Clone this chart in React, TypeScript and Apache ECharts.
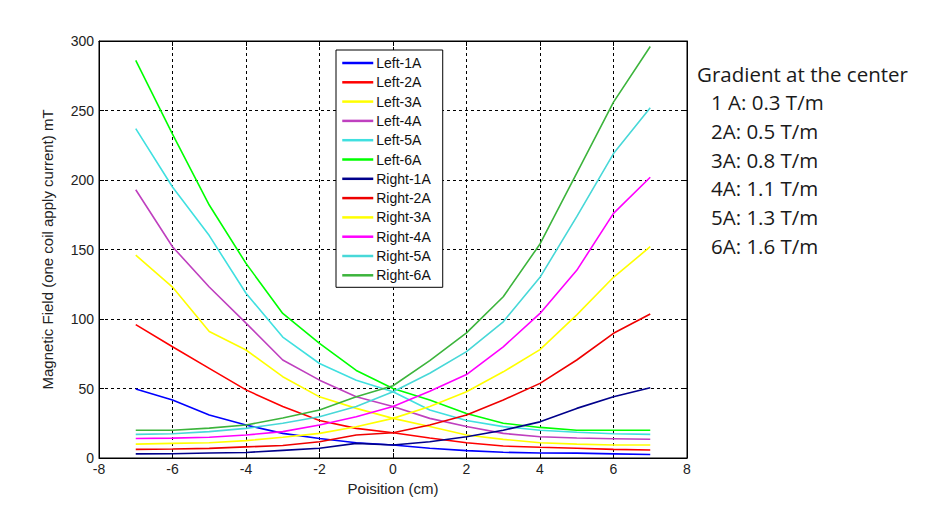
import React, { useEffect, useRef } from "react";
import * as echarts from "echarts";

const positions = [-7, -6, -5, -4, -3, -2, -1, 0, 1, 2, 3, 4, 5, 6, 7];

const left1A = [49.6, 41.7, 31, 23.7, 17.7, 14, 11, 9.4, 7, 5.3, 4.1, 3.6, 3.5, 3, 2.5];
const left2A = [96, 80, 64.5, 49, 37, 27, 21.3, 18.2, 14.4, 11, 8.6, 7.7, 7, 6.2, 5.8];
const left3A = [146, 123, 91, 77.7, 58.5, 44, 35.7, 28.5, 22.6, 16.5, 13.4, 11, 10, 9.4, 9.4];
const left4A = [193, 152, 123, 97, 70.5, 56, 44, 37, 28.5, 22.6, 17.7, 15.3, 14.4, 13.9, 13.5];
const left5A = [237, 195, 160, 118.5, 87, 68, 56, 47.7, 34.5, 27, 22.6, 20, 18.5, 17.5, 17];
const left6A = [286, 233, 182, 140, 104, 82.5, 63, 50, 41.7, 32, 25, 22, 20, 20, 20];

const right1A = [3, 3.1, 3.6, 4, 5.5, 7, 10.5, 9.4, 11.7, 15.3, 20, 26, 35.7, 44, 50.6];
const right2A = [6.2, 6.5, 6.9, 8, 9, 11.7, 16.5, 18.2, 23.7, 31, 41.7, 53.7, 70.5, 89.7, 103.6];
const right3A = [10, 10.5, 11, 12.5, 14.9, 17.7, 22.5, 28.5, 37, 47.7, 62, 78, 103, 130, 152];
const right4A = [14, 14.3, 14.9, 16.5, 19, 23.7, 29.7, 37, 48, 60, 80, 104, 135, 176, 202];
const right5A = [17, 17.5, 19, 21.3, 25, 29.7, 37, 47.7, 61, 76.5, 98, 130, 173.6, 219, 252];
const right6A = [20, 20, 21.5, 23.7, 28.8, 34.5, 44, 52, 70, 90, 116, 154, 205, 256, 296];

const seriesNames = [
  "Left-1A", "Left-2A", "Left-3A", "Left-4A", "Left-5A", "Left-6A",
  "Right-1A", "Right-2A", "Right-3A", "Right-4A", "Right-5A", "Right-6A",
];
const seriesValues = [left1A, left2A, left3A, left4A, left5A, left6A, right1A, right2A, right3A, right4A, right5A, right6A];
const seriesColors = [
  "#0000ff", "#ff0000", "#ffff00", "#bf40bf", "#40e0e0", "#00ff00",
  "#00008b", "#ee0000", "#ffff00", "#ff00ff", "#48d8d8", "#3cb43c",
];

const xTicks = { min: -8, max: 8, interval: 2 };
const yTicks = { min: 0, max: 300, interval: 50 };

const noteLines = [
  "Gradient at the center",
  "1 A: 0.3 T/m",
  "2A: 0.5 T/m",
  "3A: 0.8 T/m",
  "4A: 1.1 T/m",
  "5A: 1.3 T/m",
  "6A: 1.6 T/m",
];

export default function App() {
  const ref = useRef<HTMLDivElement>(null);
  useEffect(() => {
    if (!ref.current) return;
    const chart = echarts.init(ref.current, undefined, { renderer: "svg" });
    const font = "'Liberation Sans', Arial, sans-serif";
    const split = { show: true, lineStyle: { color: "#000", type: [3, 3] as any, width: 1 } };
    const series: any[] = seriesNames.map((name, i) => ({
      name,
      type: "line",
      symbol: "none",
      smooth: false,
      data: positions.map((p, j) => [p, seriesValues[i][j]]),
      lineStyle: { color: seriesColors[i], width: 1.6 },
      itemStyle: { color: seriesColors[i] },
    }));
    chart.setOption({
      animation: false,
      backgroundColor: "#fff",
      grid: {
        left: 99, right: 245, top: 41, bottom: 57,
        show: true, borderColor: "#000", borderWidth: 1, backgroundColor: "transparent",
      },
      legend: {
        orient: "vertical",
        left: 336,
        top: 50,
        itemWidth: 31,
        itemHeight: 14,
        itemGap: 5.3,
        padding: [6, 12, 5, 5],
        backgroundColor: "#fff",
        borderColor: "#000",
        borderWidth: 1,
        borderRadius: 0,
        itemStyle: { opacity: 0 },
        lineStyle: { width: 2.5 },
        textStyle: { fontSize: 14, fontFamily: font, color: "#111", padding: [0, 0, 0, -2] },
        data: seriesNames,
      },
      xAxis: [
        {
          type: "value", ...xTicks,
          name: "Poisition (cm)", nameLocation: "middle", nameGap: 22,
          nameTextStyle: { fontSize: 15, fontFamily: font, color: "#222" },
          axisLine: { show: true, onZero: false, lineStyle: { color: "#000" } },
          axisTick: { show: true, inside: true, length: 5, lineStyle: { color: "#000" } },
          axisLabel: { fontSize: 14, fontFamily: font, color: "#222", margin: 4 },
          splitLine: split,
        },
        {
          type: "value", ...xTicks, position: "top",
          axisLine: { show: true, onZero: false, lineStyle: { color: "#000" } },
          axisTick: { show: true, inside: true, length: 5, lineStyle: { color: "#000" } },
          axisLabel: { show: false },
          splitLine: { show: false },
        },
      ],
      yAxis: [
        {
          type: "value", ...yTicks,
          name: "Magnetic Field (one coil apply current) mT", nameLocation: "middle", nameGap: 44,
          nameTextStyle: { fontSize: 15, fontFamily: font, color: "#222" },
          axisLine: { show: true, onZero: false, lineStyle: { color: "#000" } },
          axisTick: { show: true, inside: true, length: 5, lineStyle: { color: "#000" } },
          axisLabel: { fontSize: 14, fontFamily: font, color: "#222", margin: 5 },
          splitLine: split,
        },
        {
          type: "value", ...yTicks, position: "right",
          axisLine: { show: true, onZero: false, lineStyle: { color: "#000" } },
          axisTick: { show: true, inside: true, length: 5, lineStyle: { color: "#000" } },
          axisLabel: { show: false },
          splitLine: { show: false },
        },
      ],
      graphic: noteLines.map((t, i) => ({
        type: "text",
        left: i === 0 ? 697 : 711,
        top: 76 + i * 28.7 - 13,
        style: {
          text: t,
          fontSize: 20.5,
          fontFamily: "'Open Sans', 'Noto Sans', sans-serif",
          fill: "#1a1a1a",
        },
      })),
      series,
    });
    return () => chart.dispose();
  }, []);
  return <div ref={ref} style={{ width: 932, height: 515, margin: -8 }} />;
}
